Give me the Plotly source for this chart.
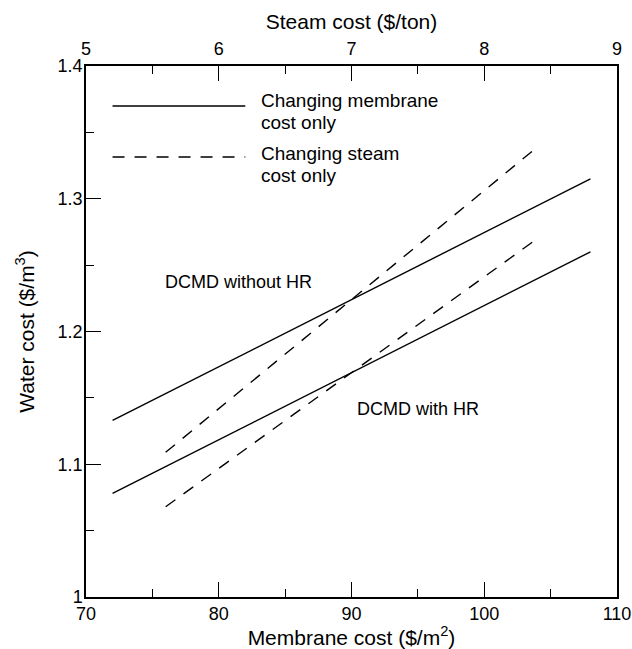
import plotly.graph_objects as go

# Data
membrane_cost = [72, 108]                 # $/m2 (bottom axis)
water_wo_hr_membrane = [1.133, 1.315]     # DCMD without HR, changing membrane cost
water_w_hr_membrane = [1.078, 1.260]      # DCMD with HR, changing membrane cost

steam_cost = [5.6, 8.4]                   # $/ton (top axis)
water_wo_hr_steam = [1.109, 1.339]        # DCMD without HR, changing steam cost
water_w_hr_steam = [1.068, 1.270]         # DCMD with HR, changing steam cost

x_ticks = [70, 80, 90, 100, 110]
x2_ticks = [5, 6, 7, 8, 9]
y_ticks = [1.0, 1.1, 1.2, 1.3, 1.4]
y_tick_labels = ["1", "1.1", "1.2", "1.3", "1.4"]

FONT = "Liberation Sans, Arial, sans-serif"
DASH = "12px,10px"
LW = 1.4
TICK_SIZE = 18
TITLE_SIZE = 21
ANN_SIZE = 18
LEG_SIZE = 19

fig = go.Figure()
fig.add_trace(go.Scatter(x=membrane_cost, y=water_wo_hr_membrane, mode="lines",
                         line=dict(color="black", width=LW), showlegend=False))
fig.add_trace(go.Scatter(x=membrane_cost, y=water_w_hr_membrane, mode="lines",
                         line=dict(color="black", width=LW), showlegend=False))
fig.add_trace(go.Scatter(x=steam_cost, y=water_wo_hr_steam, mode="lines", xaxis="x2",
                         line=dict(color="black", width=LW, dash=DASH), showlegend=False))
fig.add_trace(go.Scatter(x=steam_cost, y=water_w_hr_steam, mode="lines", xaxis="x2",
                         line=dict(color="black", width=LW, dash=DASH), showlegend=False))

axis_common = dict(showgrid=False, zeroline=False, showline=True, linecolor="black",
                   linewidth=1.5, ticks="inside", ticklen=15, tickwidth=1.3,
                   tickcolor="black", automargin=False,
                   tickfont=dict(family=FONT, size=TICK_SIZE, color="black"))

fig.update_layout(
    width=632, height=649,
    margin=dict(l=86, r=15, t=66, b=52),
    plot_bgcolor="white", paper_bgcolor="white",
    font=dict(family=FONT, color="black"),
    xaxis=dict(range=[70, 110], tickvals=x_ticks,
               minor=dict(dtick=5, ticks="inside", ticklen=8, tickwidth=1.3, tickcolor="black"),
               title=dict(text="Membrane cost ($/m<sup>2</sup>)", font=dict(family=FONT, size=TITLE_SIZE), standoff=5),
               ticklabelstandoff=0,
               **axis_common),
    xaxis2=dict(range=[5, 9], tickvals=x2_ticks, overlaying="x", side="top", anchor="y",
                minor=dict(dtick=0.5, ticks="inside", ticklen=8, tickwidth=1.3, tickcolor="black"),
                title=dict(text="Steam cost ($/ton)", font=dict(family=FONT, size=TITLE_SIZE), standoff=4),
                ticklabelstandoff=2,
                **axis_common),
    yaxis=dict(range=[1.0, 1.4], tickvals=y_ticks, ticktext=y_tick_labels, mirror=True,
               minor=dict(dtick=0.05, ticks="inside", ticklen=8, tickwidth=1.3, tickcolor="black"),
               title=dict(text="Water cost ($/m<sup>3</sup>)", font=dict(family=FONT, size=TITLE_SIZE), standoff=17),
               ticklabelstandoff=-2,
               **axis_common),
)

# Legend drawn as lines + text (long sample lines as in the reference)
fig.add_shape(type="line", xref="x", yref="y", x0=72, x1=82, y0=1.3699, y1=1.3699,
              line=dict(color="black", width=LW))
fig.add_shape(type="line", xref="x", yref="y", x0=72, x1=82, y0=1.3315, y1=1.3315,
              line=dict(color="black", width=LW, dash=DASH))
legend_lines = [("Changing membrane", 1.3737), ("cost only", 1.3575),
                ("Changing steam", 1.3338), ("cost only", 1.3176)]
for txt, yy in legend_lines:
    fig.add_annotation(x=83.03, y=yy, xref="x", yref="y", text=txt,
                       showarrow=False, xanchor="left", yanchor="middle", align="left",
                       font=dict(family=FONT, size=LEG_SIZE, color="black"))

fig.add_annotation(x=81.5, y=1.237, xref="x", yref="y", text="DCMD without HR",
                   showarrow=False, font=dict(family=FONT, size=ANN_SIZE, color="black"))
fig.add_annotation(x=95.0, y=1.142, xref="x", yref="y", text="DCMD with HR",
                   showarrow=False, font=dict(family=FONT, size=ANN_SIZE, color="black"))

# remove the browser's default 8px body margin so the figure fills the window exactly
fig.write_html("out.html", config={"displayModeBar": False},
               post_script="document.body.style.margin='0';document.body.style.overflow='hidden';")
